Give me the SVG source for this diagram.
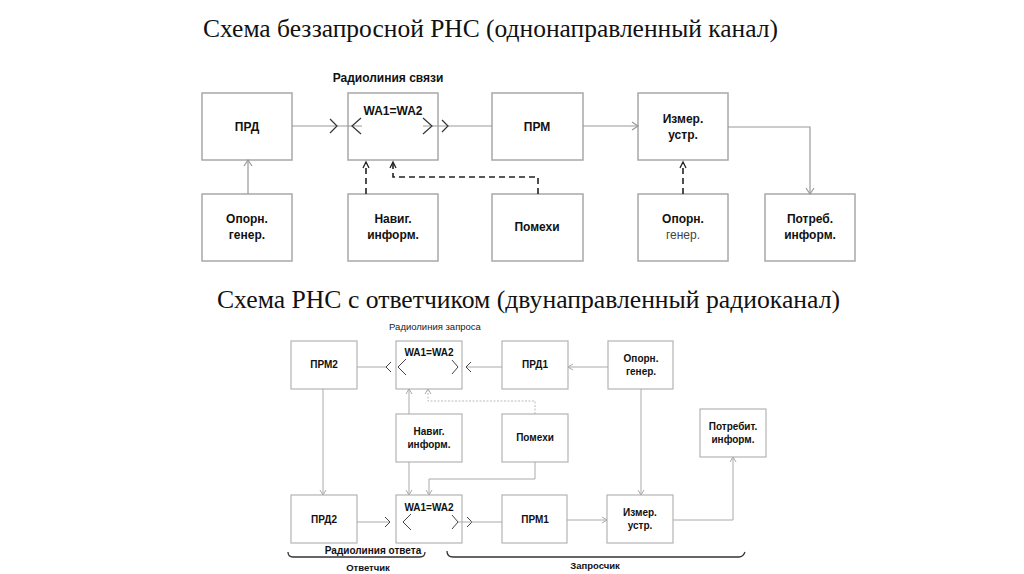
<svg xmlns="http://www.w3.org/2000/svg" width="1024" height="574" viewBox="0 0 1024 574">
<style>
.bg{fill:#fff}
.title{font-family:"Liberation Serif","Times New Roman",serif;font-size:25px;fill:#111}
.box1{fill:#fff;stroke:#a8a8a8;stroke-width:1.5}
.box2{fill:#fff;stroke:#b4b4b4;stroke-width:1.2}
.t1{font-family:"Liberation Sans",Arial,sans-serif;font-weight:bold;font-size:12px;fill:#111;text-anchor:middle}
.t2{font-family:"Liberation Sans",Arial,sans-serif;font-weight:bold;font-size:10px;fill:#111;text-anchor:middle}
.sm{font-size:9.5px}
.thin{font-weight:normal;fill:#444}
.ln1{fill:none;stroke:#999;stroke-width:1.2}
.ch1{fill:none;stroke:#333;stroke-width:1.2}
.ds{fill:none;stroke:#222;stroke-width:1.6;stroke-dasharray:6 4}
.ah{fill:none;stroke:#222;stroke-width:1.3}
.ln2{fill:none;stroke:#aaa;stroke-width:1}
.dt2{fill:none;stroke:#bbb;stroke-width:1;stroke-dasharray:2 1.5}
.ch2{fill:none;stroke:#444;stroke-width:1}
.br{fill:none;stroke:#333;stroke-width:1.3}
</style>
<rect class="bg" x="0" y="0" width="1024" height="574"/>

<text class="title" x="203" y="37" textLength="575" lengthAdjust="spacingAndGlyphs">Схема беззапросной РНС (однонаправленный канал)</text>
<text class="title" x="217" y="308" textLength="623" lengthAdjust="spacingAndGlyphs">Схема РНС с ответчиком (двунаправленный радиоканал)</text>

<!-- Top scheme nodes -->
<g id="top-prd"><rect class="box1" x="202" y="93" width="90" height="67"/><text class="t1" x="247" y="131">ПРД</text></g>
<g id="top-wa"><text class="t1" x="388" y="82">Радиолиния  связи</text><rect class="box1" x="348" y="93" width="90" height="67"/><text class="t1" x="393" y="115">WA1=WA2</text></g>
<g id="top-prm"><rect class="box1" x="492" y="93" width="91" height="67"/><text class="t1" x="537" y="131">ПРМ</text></g>
<g id="top-izm"><rect class="box1" x="638" y="93" width="90" height="67"/><text class="t1" x="683" y="123">Измер.</text><text class="t1" x="683" y="139">устр.</text></g>
<g id="top-opg1"><rect class="box1" x="202" y="194" width="90" height="67"/><text class="t1" x="247" y="223">Опорн.</text><text class="t1" x="247" y="239">генер.</text></g>
<g id="top-nav"><rect class="box1" x="348" y="194" width="90" height="67"/><text class="t1" x="393" y="223">Навиг.</text><text class="t1" x="393" y="239">информ.</text></g>
<g id="top-pom"><rect class="box1" x="492" y="194" width="91" height="67"/><text class="t1" x="537" y="231">Помехи</text></g>
<g id="top-opg2"><rect class="box1" x="638" y="194" width="90" height="67"/><text class="t1" x="683" y="223">Опорн.</text><text class="t1 thin" x="683" y="239">генер.</text></g>
<g id="top-potr"><rect class="box1" x="765" y="194" width="90" height="67"/><text class="t1" x="810" y="223">Потреб.</text><text class="t1" x="810" y="239">информ.</text></g>

<!-- Top connectors -->
<g id="top-connectors">
<path class="ln1" d="M292,126 H362"/>
<polyline class="ch1" points="330,119 337,126 330,133"/>
<polyline class="ch1" points="361,118 352,126 361,134"/>
<path class="ln1" d="M423,126 H492"/>
<polyline class="ch1" points="423,118 432,126 423,134"/>
<polyline class="ch1" points="442,120 448,126 442,132"/>
<path class="ln1" d="M583,126 H638"/>
<polyline class="ln1" points="632,122 638,126 632,130"/>
<path class="ln1" d="M728,127 H810 V194"/>
<polyline class="ln1" points="806,188 810,194 814,188"/>
<path class="ln1" d="M248,194 V160"/>
<polyline class="ln1" points="244,166 248,160 252,166"/>
<path class="ds" d="M366,194 V163"/>
<polyline class="ah" points="363,168 366,162 369,168"/>
<path class="ds" d="M538,194 V177 H393 V163"/>
<polyline class="ah" points="390,168 393,162 396,168"/>
<path class="ds" d="M683,194 V163"/>
<polyline class="ah" points="680,168 683,162 686,168"/>
</g>

<!-- Bottom scheme nodes -->
<g id="b-prm2"><rect class="box2" x="291" y="341" width="66" height="48"/><text class="t2" x="324" y="368">ПРМ2</text></g>
<g id="b-wa-top"><text class="t2 thin sm" x="435" y="330" style="fill:#222">Радиолиния  запроса</text><rect class="box2" x="396" y="341" width="66" height="48"/><text class="t2" x="429" y="356">WA1=WA2</text></g>
<g id="b-prd1"><rect class="box2" x="502" y="341" width="66" height="48"/><text class="t2" x="535" y="368">ПРД1</text></g>
<g id="b-opg"><rect class="box2" x="608" y="341" width="65" height="48"/><text class="t2" x="641" y="362">Опорн.</text><text class="t2" x="641" y="375">генер.</text></g>
<g id="b-nav"><rect class="box2" x="396" y="414" width="66" height="48"/><text class="t2" x="429" y="435">Навиг.</text><text class="t2" x="429" y="448">информ.</text></g>
<g id="b-pom"><rect class="box2" x="502" y="414" width="66" height="48"/><text class="t2" x="535" y="441">Помехи</text></g>
<g id="b-potr"><rect class="box2" x="700" y="409" width="66" height="48"/><text class="t2" x="733" y="430">Потребит.</text><text class="t2" x="733" y="443">информ.</text></g>
<g id="b-prd2"><rect class="box2" x="291" y="495" width="66" height="48"/><text class="t2" x="324" y="523">ПРД2</text></g>
<g id="b-wa-bot"><rect class="box2" x="396" y="495" width="66" height="48"/><text class="t2" x="429" y="511">WA1=WA2</text><text class="t2" x="373" y="554">Радиолиния ответа</text></g>
<g id="b-prm1"><rect class="box2" x="502" y="495" width="65" height="48"/><text class="t2" x="535" y="523">ПРМ1</text></g>
<g id="b-izm"><rect class="box2" x="607" y="495" width="66" height="48"/><text class="t2" x="640" y="516">Измер.</text><text class="t2" x="640" y="529">устр.</text></g>
<g id="b-otv"><path class="br" d="M288,552 Q288,557 293,557 H420 Q425,557 425,552"/><text class="t2 sm" x="368" y="571">Ответчик</text></g>
<g id="b-zap"><path class="br" d="M447,551 Q447,557 453,557 H739 Q743,557 745,552"/><text class="t2 sm" x="595" y="569">Запросчик</text></g>

<!-- Bottom connectors -->
<g id="bottom-connectors">
<path class="ln2" d="M357,367 H386"/>
<polyline class="ch2" points="391,362 386,367 391,372"/>
<polyline class="ch2" points="406,359 398,367 406,375"/>
<polyline class="ch2" points="452,360 458,367 452,374"/>
<path class="ln2" d="M466,367 H502"/>
<polyline class="ch2" points="471,362 466,367 471,372"/>
<path class="ln2" d="M608,367 H568"/>
<polyline class="ln2" points="573,364 568,367 573,370"/>
<path class="ln2" d="M409,414 V389"/>
<polyline class="ln2" points="406,394 409,389 412,394"/>
<path class="dt2" d="M535,414 V401 H428 V390"/>
<polyline class="ln2" points="425,394 428,389 431,394"/>
<path class="ln2" d="M409,462 V495"/>
<polyline class="ln2" points="406,490 409,495 412,490"/>
<path class="ln2" d="M535,462 V479 H429 V495"/>
<polyline class="ln2" points="426,490 429,495 432,490"/>
<path class="ln2" d="M323,389 V495"/>
<polyline class="ln2" points="320,490 323,495 326,490"/>
<path class="ln2" d="M641,389 V495"/>
<polyline class="ln2" points="638,490 641,495 644,490"/>
<path class="ln2" d="M357,522 H390"/>
<polyline class="ch2" points="385,517 390,522 385,527"/>
<polyline class="ch2" points="411,514 403,522 411,530"/>
<polyline class="ch2" points="452,515 458,522 452,529"/>
<polyline class="ch2" points="467,517 472,522 467,527"/>
<path class="ln2" d="M458,522 H502"/>
<path class="ln2" d="M567,520 H607"/>
<polyline class="ln2" points="602,517 607,520 602,523"/>
<path class="ln2" d="M673,520 H733 V457"/>
<polyline class="ln2" points="730,462 733,457 736,462"/>
</g>
</svg>
